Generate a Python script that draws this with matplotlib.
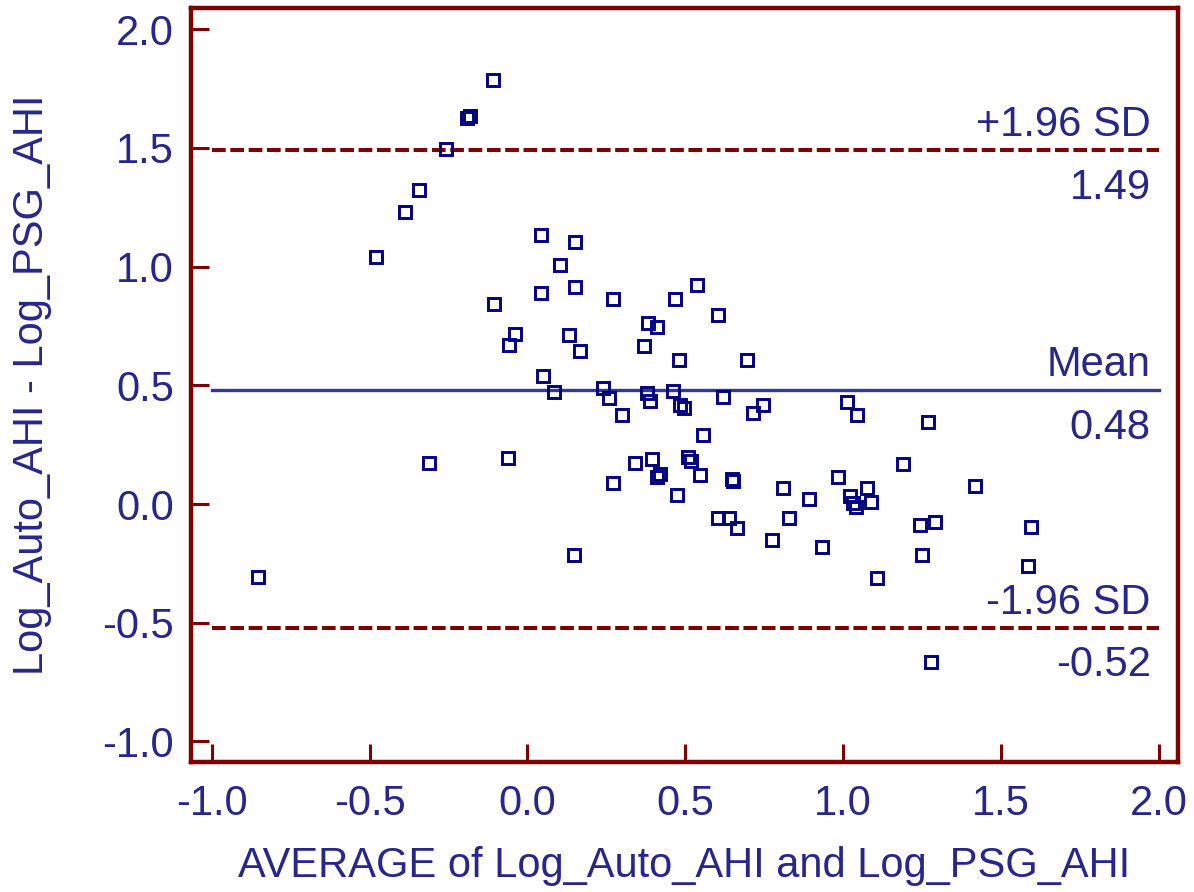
import numpy as np
import matplotlib
matplotlib.use("Agg")
import matplotlib.pyplot as plt

# Bland-Altman data (average, difference)
avg = [-0.109, -0.193, -0.182, -0.258, -0.343, -0.387, -0.481, -0.313, -0.854,
       0.043, 0.152, 0.102, 0.043, 0.152, 0.271, -0.105, 0.468, 0.538, 0.603,
       0.381, 0.409, -0.041, -0.060, 0.133, 0.167, 0.370, 0.479, 0.697, 0.048,
       0.083, 0.240, 0.259, 0.378, 0.388, 0.462, 0.483, 0.496, 0.621, 0.745,
       0.716, 0.299, 0.557, 0.341, -0.061, 0.394, 0.420, 0.411, 0.510, 0.517,
       0.547, 0.652, 0.647, 0.270, 0.475, 0.811, 1.012, 1.043, 0.893, 0.983,
       1.022, 1.077, 1.088, 1.041, 1.032, 1.191, 0.605, 0.640, 0.663, 0.830,
       0.776, 0.934, 0.147, 1.107, 1.270, 1.418, 1.244, 1.292, 1.596, 1.250,
       1.587, 1.279]
diff = [1.786, 1.625, 1.635, 1.496, 1.323, 1.229, 1.040, 0.173, -0.307,
        1.134, 1.105, 1.007, 0.888, 0.916, 0.863, 0.843, 0.863, 0.922, 0.797,
        0.764, 0.745, 0.718, 0.671, 0.712, 0.646, 0.666, 0.606, 0.606, 0.541,
        0.473, 0.488, 0.446, 0.467, 0.436, 0.478, 0.417, 0.406, 0.452, 0.417,
        0.382, 0.375, 0.291, 0.174, 0.193, 0.189, 0.127, 0.113, 0.197, 0.183,
        0.122, 0.098, 0.106, 0.088, 0.038, 0.069, 0.431, 0.375, 0.021, 0.115,
        0.035, 0.069, 0.010, -0.012, 0.005, 0.169, -0.057, -0.060, -0.102, -0.057,
        -0.151, -0.182, -0.214, -0.313, 0.345, 0.076, -0.088, -0.074, -0.095, -0.214,
        -0.261, -0.664]

mean_diff = 0.48
upper_loa = 1.49
lower_loa = -0.52
line_labels = ["+1.96 SD", "Mean", "-1.96 SD"]
value_labels = ["1.49", "0.48", "-0.52"]

ticks = [-1.0, -0.5, 0.0, 0.5, 1.0, 1.5, 2.0]
tick_labels = ["-1.0", "-0.5", "0.0", "0.5", "1.0", "1.5", "2.0"]

NAVY = "#26268c"
MAROON = "#7f0000"
FS = 30

plt.rcParams["font.family"] = ["Liberation Sans", "DejaVu Sans"]


def bland_altman(ax):
    ax.plot(avg, diff, ls="none", marker="s", ms=9.3, mew=2.1,
            mfc="none", mec="#000080", zorder=3)

    ax.plot([-1, 2], [mean_diff, mean_diff], color="#35359a", lw=2.4, zorder=2)
    for y in (upper_loa, lower_loa):
        ax.plot([-1, 2], [y, y], color=MAROON, lw=2.9,
                dashes=(3.4, 1.15), zorder=2)

    levels = [upper_loa, mean_diff, lower_loa]
    for y, top, bottom in zip(levels, line_labels, value_labels):
        ax.annotate(top, (1.975, y), xytext=(0, 10), textcoords="offset points",
                    ha="right", va="baseline", fontsize=FS, color=NAVY)
        ax.annotate(bottom, (1.975, y), xytext=(0, -35), textcoords="offset points",
                    ha="right", va="baseline", fontsize=FS, color=NAVY)


def main():
    fig = plt.figure(figsize=(11.94, 8.92), dpi=100)
    ax = fig.add_axes([0.1597, 0.1461, 0.8267, 0.8446])

    bland_altman(ax)

    ax.set_xlim(-1.0675, 2.061)
    ax.set_ylim(-1.085, 2.088)
    ax.set_xticks(ticks)
    ax.set_xticklabels(tick_labels)
    ax.set_yticks(ticks)
    ax.set_yticklabels(tick_labels)

    for s in ax.spines.values():
        s.set_color(MAROON)
        s.set_linewidth(3.2)
    ax.tick_params(direction="in", length=13, width=2.2, color=MAROON,
                   labelsize=FS, labelcolor=NAVY)
    ax.tick_params(axis="x", pad=16)
    ax.tick_params(axis="y", pad=12)

    ax.set_xlabel("AVERAGE of Log_Auto_AHI and Log_PSG_AHI", fontsize=FS,
                  color=NAVY, labelpad=16)
    ax.set_ylabel("Log_Auto_AHI - Log_PSG_AHI", fontsize=FS,
                  color=NAVY, labelpad=36)

    fig.savefig("out.png", dpi=100)


main()
